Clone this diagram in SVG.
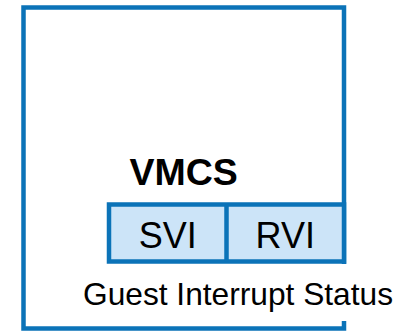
<svg xmlns="http://www.w3.org/2000/svg" width="406" height="331" viewBox="0 0 406 331">
  <style>
    .frame { fill: #ffffff; stroke: #0b73b8; stroke-width: 4.5; }
    .field { fill: #cce4f8; stroke: #0b73b8; stroke-width: 4.5; }
    .title { font-family: "Liberation Sans", Arial, sans-serif; font-weight: bold; font-size: 37.5px; fill: #000000; }
    .cell { font-family: "Liberation Sans", Arial, sans-serif; font-size: 36px; fill: #000000; text-anchor: middle; }
    .label { font-family: "Liberation Sans", Arial, sans-serif; font-size: 31.7px; fill: #000000; }
  </style>
  <g id="vmcs">
    <rect class="frame" x="23.5" y="7.5" width="320.5" height="321"/>
    <text class="title" x="129.5" y="185">VMCS</text>
  </g>
  <g id="guest-interrupt-status">
    <rect class="field" x="109" y="204.5" width="235" height="57"/>
    <line x1="226.5" y1="204.5" x2="226.5" y2="261.5" stroke="#0b73b8" stroke-width="4.5"/>
    <text class="cell" x="167.75" y="248.3">SVI</text>
    <text class="cell" x="285.25" y="248.3">RVI</text>
    <rect x="80" y="264" width="326" height="57" fill="#ffffff"/>
    <text class="label" x="83" y="305">Guest Interrupt Status</text>
  </g>
  <g id="connectors"/>
</svg>
